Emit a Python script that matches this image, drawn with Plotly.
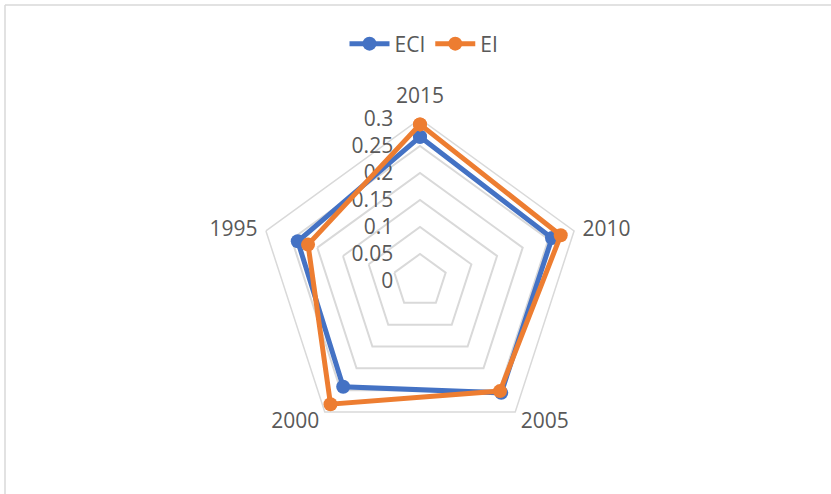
import plotly.graph_objects as go

categories = ["2015", "2010", "2005", "2000", "1995"]
eci_values = [0.267, 0.257, 0.256, 0.242, 0.238]
ei_values = [0.290, 0.274, 0.252, 0.282, 0.218]
radial_ticks = [0, 0.05, 0.1, 0.15, 0.2, 0.25, 0.3]
radial_tick_labels = ["0", "0.05", "0.1", "0.15", "0.2", "0.25", "0.3"]
axis_max = 0.3

W, H = 831, 494
cx, cy, R = 420, 281, 162

FONT = "Open Sans"
GREY_TXT = "#595959"
GRID = "#D9D9D9"
NB = "\u00a0"

def closed(v):
    return list(v) + [v[0]]

fig = go.Figure()
fig.add_trace(go.Scatterpolar(
    r=closed(eci_values), theta=closed(categories), name="ECI",
    mode="lines+markers",
    line=dict(color="#4472C4", width=5),
    marker=dict(size=14, color="#4472C4"),
))
fig.add_trace(go.Scatterpolar(
    r=closed(ei_values), theta=closed(categories), name="EI",
    mode="lines+markers",
    line=dict(color="#ED7D31", width=5),
    marker=dict(size=14, color="#ED7D31"),
))

# category labels placed around the outer ring (Excel-style positions)
label_text = ["2015", "2010", NB + "2005", "2000" + NB, "1995"]
label_pos = ["top center", "middle right", "bottom right", "bottom left", "middle left"]
label_gap = [16, 11.8, 0, 0, 11.8]
fig.add_trace(go.Scatterpolar(
    r=[axis_max] * len(categories), theta=categories,
    mode="markers+text", text=label_text, textposition=label_pos,
    marker=dict(size=label_gap, opacity=0, color="white"),
    textfont=dict(family=FONT, size=21, color=GREY_TXT),
    showlegend=False, hoverinfo="skip", cliponaxis=False,
))

fig.update_layout(
    width=W, height=H,
    margin=dict(l=0, r=0, t=0, b=0),
    paper_bgcolor="white",
    plot_bgcolor="white",
    font=dict(family=FONT, size=21, color=GREY_TXT),
    polar=dict(
        domain=dict(x=[(cx - R) / W, (cx + R) / W],
                    y=[1 - (cy + R) / H, 1 - (cy - R) / H]),
        gridshape="linear",
        bgcolor="white",
        radialaxis=dict(
            range=[0, axis_max],
            tickvals=radial_ticks,
            ticktext=radial_tick_labels,
            angle=90,
            tickangle=90,
            side="counterclockwise",
            showline=False,
            ticks="outside",
            ticklen=19,
            tickcolor="rgba(0,0,0,0)",
            gridcolor=GRID,
            gridwidth=1.5,
            layer="below traces",
            tickfont=dict(family=FONT, size=21, color=GREY_TXT),
        ),
        angularaxis=dict(
            rotation=90,
            direction="clockwise",
            showgrid=False,
            showline=True,
            linecolor=GRID,
            linewidth=1.5,
            ticks="",
            showticklabels=False,
            layer="below traces",
        ),
    ),
    showlegend=True,
    legend=dict(
        orientation="h",
        x=424 / W, xanchor="center",
        y=1 - 44 / H, yanchor="middle",
        font=dict(family=FONT, size=21, color=GREY_TXT),
        bgcolor="rgba(0,0,0,0)",
        itemwidth=40,
    ),
    shapes=[
        dict(type="line", xref="paper", yref="paper",
             x0=5 / W, x1=1, y0=1 - 5 / H, y1=1 - 5 / H,
             line=dict(color=GRID, width=1.5)),
        dict(type="line", xref="paper", yref="paper",
             x0=5 / W, x1=5 / W, y0=1 - 5 / H, y1=0,
             line=dict(color=GRID, width=1.5)),
    ],
)

fig.write_html("out.html", config={"displayModeBar": False},
               post_script="document.body.style.margin='0';")
